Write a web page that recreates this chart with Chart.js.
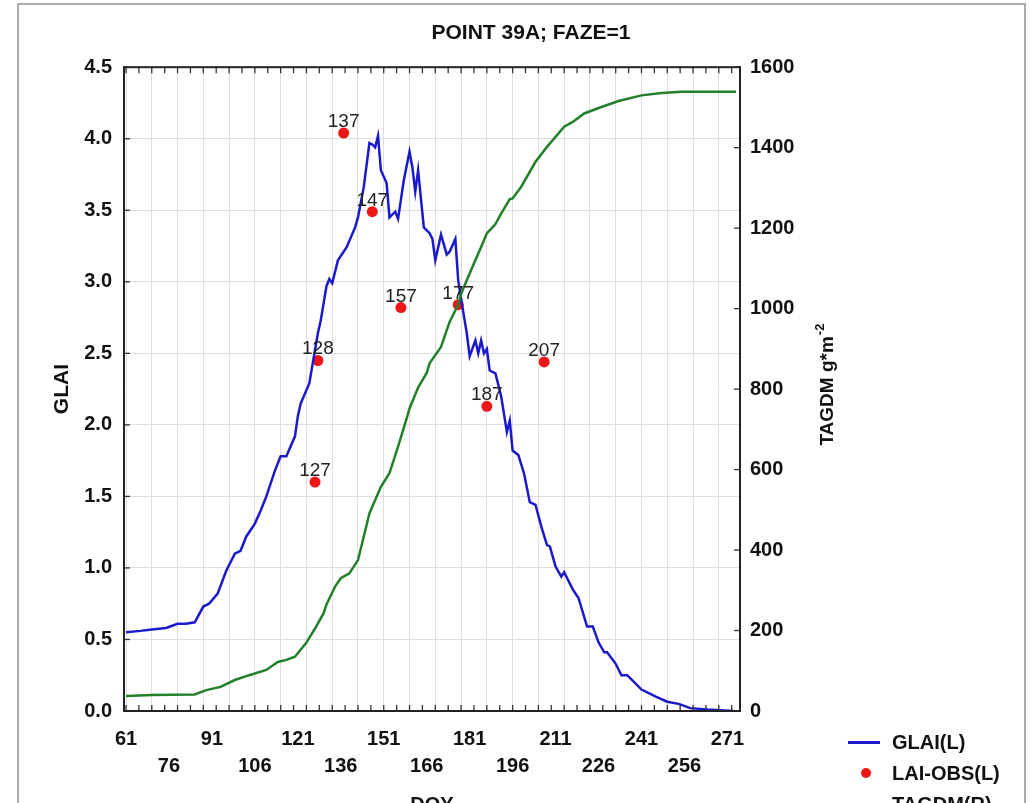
<!DOCTYPE html>
<html>
<head>
<meta charset="utf-8">
<script src="https://cdn.jsdelivr.net/npm/chart.js@4.4.1/dist/chart.umd.min.js"></script>
<style>
html,body{margin:0;padding:0;background:#fff;overflow:hidden;width:1030px;height:803px;}
#wrap{position:relative;width:1030px;height:803px;overflow:hidden;}
#frame{position:absolute;left:17px;top:3px;width:1009px;height:900px;border:2px solid #ababab;box-sizing:border-box;}
#c{position:absolute;left:0;top:0;}
.item{position:absolute;left:848px;height:22px;display:flex;align-items:center;font:bold 20px "Liberation Sans",Arial,sans-serif;color:#111;}
.smp{width:32px;height:3px;margin-right:12px;position:relative;}
.dot{width:32px;height:22px;margin-right:12px;position:relative;}
.dot:after{content:"";position:absolute;left:13px;top:6px;width:10px;height:10px;border-radius:50%;background:#ee1717;}
</style>
</head>
<body>
<div id="wrap">
  <div id="frame"></div>
  <canvas id="c" width="1030" height="830"></canvas>
  <div class="item" style="top:731px"><span class="smp" style="background:#1a1acc"></span><span>GLAI(L)</span></div>
  <div class="item" style="top:762px"><span class="dot"></span><span>LAI-OBS(L)</span></div>
  <div class="item" style="top:793px"><span class="smp" style="background:#22802a"></span><span>TAGDM(R)</span></div>
</div>
<script>
// simulated green LAI (left axis)
const glaiDoy = [61,66,70,75,79,82,85,88,90,93,96,99,101,103,106,108,110,113,115,117,
  120,121,122,125,128,129,131,132,133,135,138,141,142,144,146,147,148,149,150,152,
  153,155,156,158,160,161,162,163,165,167,168,169,171,173,174,176,177,179,180,181,
  183,184,185,186,187,188,190,192,194,195,196,198,200,202,204,206,208,209,211,213,
  214,217,219,222,224,226,228,229,232,234,236,238,241,246,250,254,258,264,273];
const glaiVal = [0.55,0.56,0.57,0.58,0.61,0.61,0.62,0.73,0.75,0.82,0.98,1.10,1.12,1.22,1.31,1.40,1.50,1.68,1.78,1.78,
  1.92,2.06,2.15,2.29,2.64,2.73,2.97,3.02,2.99,3.15,3.24,3.38,3.45,3.66,3.97,3.96,3.94,4.02,3.78,3.69,
  3.45,3.49,3.44,3.71,3.91,3.80,3.63,3.78,3.38,3.34,3.30,3.15,3.33,3.19,3.21,3.30,3.01,2.76,2.64,2.48,
  2.59,2.50,2.59,2.50,2.53,2.38,2.36,2.20,1.95,2.03,1.82,1.79,1.66,1.46,1.44,1.29,1.16,1.15,1.01,0.94,
  0.97,0.85,0.79,0.59,0.59,0.48,0.41,0.41,0.33,0.25,0.25,0.21,0.15,0.10,0.065,0.05,0.02,0.01,0.0];

// observed LAI
const obsDoy = [127,128,137,147,157,177,187,207];
const obsVal = [1.60,2.45,4.04,3.49,2.82,2.84,2.13,2.44];

// total above ground dry matter (right axis)
const tagdmDoy = [61,70,85,89,94,99,104,110,114,117,120,124,127,130,131,134,136,139,142,144,
  146,150,153,156,159,160,163,166,167,171,174,177,178,179,182,185,187,190,192,195,
  196,199,204,208,214,217,221,227,233,241,248,255,274];
const tagdmVal = [37,40,41,52,60,77,89,102,122,127,135,170,205,243,265,309,330,342,375,433,
  491,557,591,657,727,752,804,840,864,905,967,1010,1035,1054,1104,1153,1187,1210,1236,1272,
  1274,1303,1365,1402,1452,1464,1485,1501,1516,1530,1536,1539,1539];

// axes
const xLabels = [61,76,91,106,121,136,151,166,181,196,211,226,241,256,271];
const xGridStep = 9;
const xMinorStep = 4.5;
const leftTicks = [0,0.5,1,1.5,2,2.5,3,3.5,4,4.5];
const rightTicks = [0,200,400,600,800,1000,1200,1400,1600];

const FONT = '"Liberation Sans", Arial, sans-serif';
const tickFont = {family: FONT, size: 20, weight: 'bold'};
const X_MIN = 60.3, X_MAX = 275.4;

const obsLabels = {
  id: 'obsLabels',
  afterDatasetsDraw(chart) {
    const ctx = chart.ctx;
    const meta = chart.getDatasetMeta(2);
    ctx.save();
    ctx.font = '19px ' + FONT;
    ctx.fillStyle = '#222';
    ctx.textAlign = 'center';
    ctx.textBaseline = 'alphabetic';
    meta.data.forEach((pt, i) => ctx.fillText(String(obsDoy[i]), pt.x, pt.y - 6));
    ctx.restore();
  }
};

function tick(ctx, x1, y1, x2, y2) {
  ctx.beginPath();
  ctx.moveTo(x1, y1);
  ctx.lineTo(x2, y2);
  ctx.stroke();
}

const frameTicks = {
  id: 'frameTicks',
  afterDraw(chart) {
    const {ctx, chartArea: a, scales} = chart;
    const top = a.top, bot = a.bottom, lft = a.left, rgt = a.right;
    ctx.save();
    ctx.strokeStyle = '#333';
    ctx.lineWidth = 1.3;
    for (let v = xLabels[0]; v <= X_MAX; v += xMinorStep) {
      const px = scales.x.getPixelForValue(v);
      tick(ctx, px, bot, px, bot - 6);
      tick(ctx, px, top, px, top + 6);
    }
    leftTicks.forEach(v => {
      const py = scales.y.getPixelForValue(v);
      tick(ctx, lft, py, lft + 6, py);
    });
    rightTicks.forEach(v => {
      const py = scales.y2.getPixelForValue(v);
      tick(ctx, rgt, py, rgt - 6, py);
    });
    ctx.strokeStyle = '#222';
    ctx.lineWidth = 2;
    ctx.strokeRect(lft, top, rgt - lft, bot - top);

    // right axis title, reads bottom to top
    ctx.fillStyle = '#111';
    ctx.translate(rgt + 88, (top + bot) / 2 - 4);
    ctx.rotate(-Math.PI / 2);
    ctx.font = 'bold 19px ' + FONT;
    const main = 'TAGDM g*m';
    const w1 = ctx.measureText(main).width;
    ctx.font = 'bold 13px ' + FONT;
    const w2 = ctx.measureText('-2').width;
    const x0 = -(w1 + w2) / 2;
    ctx.textAlign = 'left';
    ctx.textBaseline = 'middle';
    ctx.font = 'bold 19px ' + FONT;
    ctx.fillText(main, x0, 0);
    ctx.font = 'bold 13px ' + FONT;
    ctx.fillText('-2', x0 + w1 + 1, -8);
    ctx.restore();
  }
};

new Chart(document.getElementById('c'), {
  type: 'line',
  data: {
    datasets: [
      {
        label: 'TAGDM(R)',
        data: tagdmDoy.map((d, i) => ({x: d, y: tagdmVal[i]})),
        yAxisID: 'y2',
        borderColor: '#22802a',
        borderWidth: 2.5,
        pointRadius: 0,
        tension: 0
      },
      {
        label: 'GLAI(L)',
        data: glaiDoy.map((d, i) => ({x: d, y: glaiVal[i]})),
        yAxisID: 'y',
        borderColor: '#1a1acc',
        borderWidth: 2.5,
        pointRadius: 0,
        tension: 0
      },
      {
        label: 'LAI-OBS(L)',
        data: obsDoy.map((d, i) => ({x: d, y: obsVal[i]})),
        yAxisID: 'y',
        showLine: false,
        pointRadius: 5.5,
        pointBackgroundColor: '#ee1717',
        pointBorderWidth: 0,
        borderColor: '#ee1717'
      }
    ]
  },
  options: {
    responsive: false,
    animation: false,
    events: [],
    layout: {padding: {left: 32, right: 0, top: 8, bottom: 0}},
    plugins: {
      legend: {display: false},
      tooltip: {enabled: false},
      title: {
        display: true,
        text: 'POINT 39A; FAZE=1',
        color: '#111',
        font: {family: FONT, size: 21, weight: 'bold'},
        padding: {top: 13, bottom: 21}
      }
    },
    scales: {
      // vertical grid every 9 days, no labels
      xg: {
        type: 'linear',
        position: 'bottom',
        min: X_MIN,
        max: X_MAX,
        afterBuildTicks(scale) {
          const t = [];
          for (let v = xLabels[0]; v <= X_MAX; v += xGridStep) t.push({value: v});
          scale.ticks = t;
        },
        afterFit(scale) { scale.height = 0; },
        grid: {color: '#dedede', lineWidth: 1, drawTicks: false},
        border: {display: false},
        ticks: {display: false}
      },
      x: {
        type: 'linear',
        position: 'bottom',
        min: X_MIN,
        max: X_MAX,
        afterBuildTicks(scale) { scale.ticks = xLabels.map(v => ({value: v})); },
        afterFit(scale) { scale.height = 119; },
        grid: {display: false},
        border: {display: true, color: '#222', width: 2},
        ticks: {
          autoSkip: false,
          maxRotation: 0,
          padding: 6.5,
          color: '#111',
          font: {family: FONT, size: 20, weight: 'bold', lineHeight: 1.38},
          callback(v) {
            const i = xLabels.indexOf(v);
            if (i < 0) return '';
            return i % 2 ? ['', String(v)] : String(v);
          }
        },
        title: {
          display: true,
          text: 'DOY',
          color: '#111',
          font: {family: FONT, size: 20, weight: 'bold'},
          padding: {top: 0, bottom: 13}
        }
      },
      y: {
        position: 'left',
        min: 0,
        max: 4.5,
        afterBuildTicks(scale) { scale.ticks = leftTicks.map(v => ({value: v})); },
        afterFit(scale) { scale.width = 92; },
        grid: {color: '#dedede', drawTicks: false},
        border: {display: true, color: '#222', width: 2},
        ticks: {
          padding: 12,
          color: '#111',
          font: tickFont,
          callback: v => Number(v).toFixed(1)
        },
        title: {
          display: true,
          text: 'GLAI',
          color: '#111',
          font: {family: FONT, size: 21, weight: 'bold'},
          padding: {top: 18}
        }
      },
      y2: {
        position: 'right',
        min: 0,
        max: 1600,
        afterBuildTicks(scale) { scale.ticks = rightTicks.map(v => ({value: v})); },
        afterFit(scale) { scale.width = 290; },
        grid: {drawOnChartArea: false, drawTicks: false},
        border: {display: true, color: '#222', width: 2},
        ticks: {
          padding: 10,
          color: '#111',
          font: tickFont,
          callback: v => String(v)
        }
      }
    }
  },
  plugins: [obsLabels, frameTicks]
});
</script>
</body>
</html>
